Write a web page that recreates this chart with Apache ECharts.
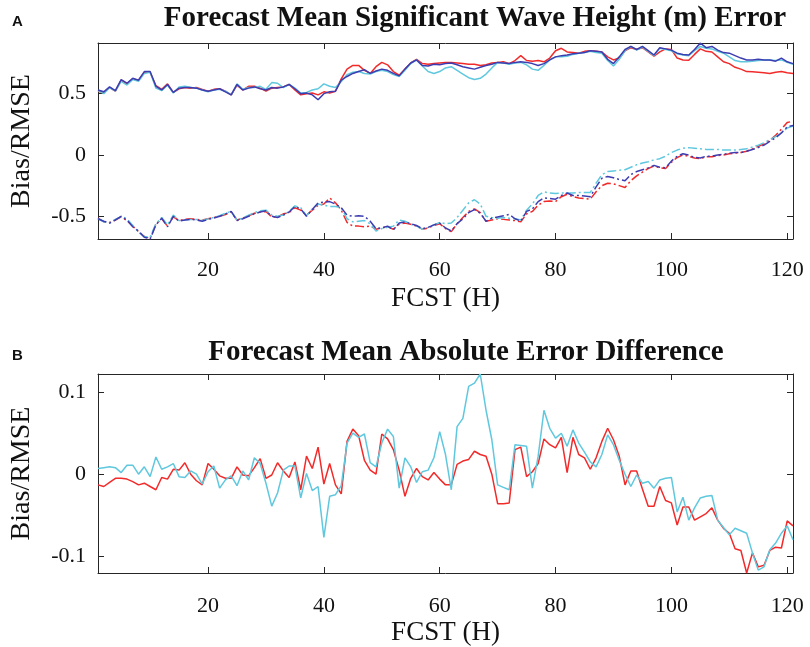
<!DOCTYPE html>
<html><head><meta charset="utf-8">
<script src="https://cdn.jsdelivr.net/npm/echarts@6/dist/echarts.min.js"></script>
<style>html,body{margin:0;padding:0;background:#fff}#c{width:810px;height:647px}</style>
</head><body><div id="c"></div>
<script>
// Forecast hours 1..121
const HOURS = Array.from({length: 121}, (_, i) => i + 1);
const X_TICKS = [20, 40, 60, 80, 100, 120];
const Y_TICKS_A = [-0.5, 0, 0.5];
const Y_TICKS_B = [-0.1, 0, 0.1];

// Panel A: RMSE (solid)
const rmseRed = [0.52,0.51,0.55,0.52,0.61,0.58,0.62,0.61,0.675,0.675,0.565,0.535,0.58,0.51,0.54,0.55,0.545,0.55,0.535,0.52,
0.535,0.54,0.52,0.49,0.57,0.53,0.56,0.56,0.545,0.52,0.545,0.55,0.555,0.575,0.53,0.49,0.50,0.505,0.49,0.515,
0.505,0.52,0.62,0.70,0.73,0.73,0.69,0.665,0.72,0.755,0.735,0.68,0.65,0.70,0.75,0.78,0.745,0.74,0.745,0.75,
0.755,0.755,0.75,0.745,0.74,0.74,0.73,0.735,0.75,0.755,0.76,0.745,0.77,0.81,0.77,0.765,0.77,0.76,0.79,0.85,
0.87,0.84,0.835,0.83,0.845,0.85,0.845,0.84,0.80,0.775,0.79,0.85,0.875,0.86,0.875,0.84,0.805,0.84,0.865,0.86,
0.79,0.775,0.772,0.82,0.865,0.845,0.84,0.80,0.76,0.745,0.715,0.70,0.68,0.678,0.675,0.67,0.665,0.675,0.68,0.67,0.665];
const rmseCyan = [0.525,0.50,0.55,0.52,0.60,0.57,0.615,0.60,0.665,0.675,0.545,0.525,0.57,0.505,0.555,0.56,0.55,0.545,0.53,0.515,
0.53,0.535,0.52,0.49,0.58,0.535,0.55,0.55,0.56,0.535,0.59,0.585,0.55,0.575,0.545,0.505,0.51,0.53,0.54,0.58,
0.56,0.55,0.60,0.655,0.675,0.68,0.665,0.66,0.68,0.69,0.68,0.655,0.64,0.69,0.745,0.775,0.725,0.68,0.665,0.68,
0.71,0.72,0.69,0.66,0.63,0.615,0.625,0.66,0.71,0.755,0.75,0.74,0.75,0.755,0.735,0.70,0.69,0.73,0.775,0.80,
0.80,0.805,0.82,0.83,0.835,0.845,0.835,0.83,0.77,0.725,0.78,0.85,0.885,0.855,0.88,0.845,0.81,0.87,0.86,0.85,
0.825,0.815,0.81,0.85,0.885,0.87,0.865,0.845,0.83,0.80,0.77,0.76,0.76,0.765,0.77,0.775,0.775,0.77,0.775,0.755,0.74];
const rmseBlue = [0.53,0.515,0.555,0.525,0.615,0.585,0.625,0.61,0.68,0.68,0.56,0.53,0.575,0.51,0.545,0.55,0.55,0.545,0.53,0.52,
0.53,0.54,0.515,0.49,0.575,0.53,0.545,0.555,0.54,0.53,0.55,0.545,0.555,0.575,0.54,0.50,0.505,0.49,0.45,0.50,
0.515,0.52,0.61,0.64,0.665,0.68,0.695,0.665,0.685,0.70,0.69,0.665,0.645,0.70,0.75,0.775,0.73,0.725,0.74,0.735,
0.745,0.75,0.735,0.72,0.71,0.70,0.715,0.73,0.74,0.755,0.75,0.745,0.755,0.76,0.755,0.745,0.73,0.745,0.775,0.80,
0.81,0.815,0.825,0.83,0.835,0.85,0.845,0.84,0.78,0.745,0.80,0.86,0.885,0.86,0.885,0.85,0.815,0.875,0.865,0.855,
0.83,0.82,0.815,0.86,0.912,0.875,0.885,0.855,0.835,0.83,0.81,0.79,0.775,0.775,0.78,0.775,0.775,0.765,0.79,0.76,0.745];

// Panel A: Bias (dash-dot)
const biasRed = [-0.515,-0.545,-0.55,-0.53,-0.505,-0.535,-0.58,-0.625,-0.665,-0.68,-0.565,-0.52,-0.58,-0.505,-0.535,-0.525,-0.52,-0.525,-0.53,-0.52,
-0.51,-0.50,-0.485,-0.465,-0.53,-0.515,-0.495,-0.475,-0.465,-0.46,-0.505,-0.505,-0.48,-0.47,-0.43,-0.45,-0.49,-0.45,-0.41,-0.40,
-0.35,-0.39,-0.45,-0.55,-0.58,-0.58,-0.585,-0.58,-0.605,-0.595,-0.585,-0.605,-0.565,-0.555,-0.565,-0.58,-0.605,-0.595,-0.575,-0.56,
-0.60,-0.625,-0.56,-0.51,-0.46,-0.44,-0.47,-0.54,-0.53,-0.52,-0.525,-0.53,-0.535,-0.545,-0.48,-0.46,-0.41,-0.38,-0.375,-0.38,
-0.34,-0.32,-0.34,-0.35,-0.355,-0.36,-0.30,-0.25,-0.23,-0.235,-0.25,-0.265,-0.21,-0.17,-0.14,-0.11,-0.09,-0.105,-0.11,-0.06,
-0.02,0.0,-0.01,-0.025,-0.03,-0.015,-0.015,-0.005,0.0,0.01,0.015,0.02,0.03,0.05,0.07,0.09,0.12,0.16,0.21,0.265,0.275];
const biasCyan = [-0.52,-0.545,-0.555,-0.525,-0.50,-0.52,-0.575,-0.63,-0.665,-0.67,-0.56,-0.51,-0.57,-0.49,-0.535,-0.53,-0.525,-0.525,-0.535,-0.52,
-0.51,-0.495,-0.475,-0.46,-0.53,-0.515,-0.49,-0.47,-0.455,-0.45,-0.49,-0.50,-0.49,-0.46,-0.415,-0.43,-0.495,-0.44,-0.40,-0.41,
-0.42,-0.42,-0.43,-0.52,-0.545,-0.54,-0.535,-0.56,-0.62,-0.60,-0.59,-0.58,-0.53,-0.54,-0.565,-0.58,-0.605,-0.59,-0.57,-0.55,
-0.56,-0.555,-0.51,-0.45,-0.39,-0.365,-0.40,-0.50,-0.51,-0.515,-0.51,-0.515,-0.52,-0.53,-0.45,-0.40,-0.33,-0.30,-0.31,-0.315,
-0.31,-0.31,-0.31,-0.305,-0.305,-0.305,-0.23,-0.16,-0.135,-0.13,-0.125,-0.12,-0.10,-0.08,-0.065,-0.055,-0.04,-0.03,-0.01,0.02,
0.04,0.055,0.06,0.055,0.05,0.045,0.045,0.045,0.04,0.04,0.04,0.045,0.05,0.065,0.08,0.10,0.125,0.15,0.18,0.22,0.235];
const biasBlue = [-0.52,-0.54,-0.555,-0.53,-0.50,-0.53,-0.585,-0.62,-0.67,-0.685,-0.57,-0.515,-0.585,-0.50,-0.54,-0.53,-0.525,-0.53,-0.54,-0.525,
-0.515,-0.50,-0.48,-0.46,-0.535,-0.52,-0.50,-0.48,-0.465,-0.455,-0.50,-0.51,-0.49,-0.465,-0.42,-0.44,-0.50,-0.445,-0.39,-0.385,
-0.38,-0.40,-0.43,-0.49,-0.50,-0.495,-0.50,-0.54,-0.60,-0.595,-0.58,-0.61,-0.555,-0.545,-0.56,-0.575,-0.60,-0.59,-0.57,-0.555,
-0.595,-0.62,-0.56,-0.52,-0.47,-0.445,-0.475,-0.54,-0.515,-0.505,-0.495,-0.485,-0.52,-0.54,-0.46,-0.44,-0.38,-0.35,-0.355,-0.36,
-0.33,-0.31,-0.33,-0.33,-0.335,-0.34,-0.26,-0.19,-0.175,-0.185,-0.20,-0.21,-0.16,-0.135,-0.12,-0.105,-0.085,-0.10,-0.105,-0.05,
-0.01,0.01,0.0,-0.02,-0.025,-0.01,-0.01,0.0,0.005,0.015,0.02,0.02,0.03,0.045,0.06,0.08,0.11,0.14,0.18,0.23,0.24];

// Panel B: mean absolute error difference
const diffRed = [-0.013,-0.015,-0.010,-0.005,-0.005,-0.006,-0.009,-0.013,-0.011,-0.015,-0.019,-0.004,-0.006,0.006,0.005,0.014,0.000,-0.008,-0.013,0.013,
0.006,-0.002,-0.005,-0.005,0.009,-0.001,-0.002,0.008,0.019,-0.005,-0.001,0.014,0.004,-0.004,0.015,-0.019,0.022,0.007,0.033,-0.012,
0.013,-0.013,-0.024,0.040,0.055,0.047,0.017,0.005,0.000,0.049,0.043,0.030,0.005,-0.027,-0.005,0.007,-0.003,-0.007,0.002,-0.006,
-0.013,-0.013,0.012,0.016,0.018,0.028,0.024,0.022,0.000,-0.036,-0.036,-0.035,0.030,0.033,-0.003,0.003,0.013,0.043,0.036,0.032,
0.045,0.002,0.045,0.024,0.020,0.006,0.020,0.040,0.056,0.042,0.022,-0.013,0.004,0.004,-0.018,-0.039,-0.039,-0.015,-0.032,-0.035,
-0.062,-0.040,-0.040,-0.056,-0.052,-0.048,-0.041,-0.056,-0.066,-0.072,-0.091,-0.093,-0.1205,-0.096,-0.113,-0.111,-0.093,-0.089,-0.090,-0.057,-0.063];
const diffCyan = [0.007,0.008,0.009,0.008,0.002,0.011,0.011,0.000,0.009,-0.003,0.021,0.006,0.009,0.013,-0.003,-0.004,0.004,0.000,-0.012,0.003,
0.010,-0.017,-0.007,-0.002,-0.014,0.004,-0.007,0.020,0.013,-0.011,-0.039,-0.023,0.005,0.010,0.010,-0.029,0.001,-0.020,-0.015,-0.077,
-0.027,-0.025,-0.014,0.038,0.050,0.045,0.049,0.014,0.009,0.038,0.055,0.046,-0.017,0.020,0.009,-0.010,0.003,0.005,0.020,0.052,
0.024,-0.019,0.058,0.068,0.107,0.111,0.1222,0.078,0.042,-0.013,-0.016,-0.019,0.036,0.035,0.034,-0.017,0.022,0.078,0.056,0.044,
0.050,0.034,0.054,0.038,0.027,0.015,0.009,0.024,0.048,0.036,0.017,0.000,-0.015,-0.001,-0.011,-0.009,-0.017,-0.007,-0.005,-0.004,
-0.046,-0.028,-0.056,-0.041,-0.029,-0.027,-0.026,-0.056,-0.065,-0.074,-0.066,-0.069,-0.072,-0.096,-0.117,-0.113,-0.092,-0.084,-0.072,-0.063,-0.080];

const RED = '#f22a2a', CYAN = '#5fc8de', BLUE = '#3d3db2';
const AX = '#262626';
const SERIF = '"Liberation Serif","Times New Roman",serif';
const pts = arr => HOURS.map((h, i) => [h, arr[i]]);
const dashDot = [9, 3, 2, 3];

const chart = echarts.init(document.getElementById('c'));

function xAx(grid, pos, show, labelMargin) {
  return {
    type: 'value', gridIndex: grid, position: pos, min: 1, max: 121,
    name: show ? 'FCST (H)' : '', nameLocation: 'middle', nameGap: 46,
    nameTextStyle: {fontFamily: SERIF, fontSize: 27, color: '#111'},
    axisLine: {show: true, onZero: false, lineStyle: {color: AX, width: 1}},
    axisTick: {show: true, inside: true, length: 6, customValues: X_TICKS, lineStyle: {color: AX}},
    axisLabel: {show: show, customValues: X_TICKS, margin: labelMargin || 12, fontFamily: SERIF, fontSize: 22, color: '#111'},
    splitLine: {show: false}
  };
}
function yAx(grid, pos, show, mn, mx, ticks) {
  return {
    type: 'value', gridIndex: grid, position: pos, min: mn, max: mx,
    name: show ? 'Bias/RMSE' : '', nameLocation: 'middle', nameGap: 62, nameRotate: 90,
    nameTextStyle: {fontFamily: SERIF, fontSize: 28, color: '#111'},
    axisLine: {show: true, onZero: false, lineStyle: {color: AX, width: 1}},
    axisTick: {show: true, inside: true, length: 6, customValues: ticks, lineStyle: {color: AX}},
    axisLabel: {show: show, customValues: ticks, margin: 12, fontFamily: SERIF, fontSize: 22, color: '#111',
      formatter: v => String(v)},
    splitLine: {show: false}
  };
}
function line(name, data, color, xi, yi, dashed) {
  return {
    name, type: 'line', xAxisIndex: xi, yAxisIndex: yi, data: pts(data),
    showSymbol: false, symbol: 'none', animation: false, silent: true,
    lineStyle: {color, width: 1.5, type: dashed ? dashDot : 'solid'}
  };
}

chart.setOption({
  animation: false,
  backgroundColor: '#fff',
  grid: [
    {left: 94, right: 17, top: 43, height: 196},
    {left: 94, right: 17, top: 374, height: 199}
  ],
  xAxis: [xAx(0, 'bottom', true, 20), xAx(0, 'top', false), xAx(1, 'bottom', true, 22), xAx(1, 'top', false)],
  yAxis: [
    yAx(0, 'left', true, -0.685, 0.913, Y_TICKS_A), yAx(0, 'right', false, -0.685, 0.913, Y_TICKS_A),
    yAx(1, 'left', true, -0.1205, 0.1222, Y_TICKS_B), yAx(1, 'right', false, -0.1205, 0.1222, Y_TICKS_B)
  ],
  graphic: [
    {type: 'text', x: 12, y: 22, style: {text: 'A', font: 'bold 15px "Liberation Sans",Arial,sans-serif', fill: '#111', verticalAlign: 'middle'}},
    {type: 'text', x: 12, y: 356, style: {text: 'B', font: 'bold 15px "Liberation Sans",Arial,sans-serif', fill: '#111', verticalAlign: 'middle'}},
    {type: 'text', x: 475, y: 19, style: {text: 'Forecast Mean Significant Wave Height (m) Error', font: 'bold 29px ' + SERIF, fill: '#111', align: 'center', verticalAlign: 'middle'}},
    {type: 'text', x: 466, y: 353, style: {text: 'Forecast Mean Absolute Error Difference', font: 'bold 29px ' + SERIF, fill: '#111', align: 'center', verticalAlign: 'middle'}}
  ],
  series: [
    line('RMSE red', rmseRed, RED, 0, 0, false),
    line('RMSE cyan', rmseCyan, CYAN, 0, 0, false),
    line('RMSE blue', rmseBlue, BLUE, 0, 0, false),
    line('Bias red', biasRed, RED, 0, 0, true),
    line('Bias cyan', biasCyan, CYAN, 0, 0, true),
    line('Bias blue', biasBlue, BLUE, 0, 0, true),
    line('Diff red', diffRed, RED, 2, 2, false),
    line('Diff cyan', diffCyan, CYAN, 2, 2, false)
  ]
});
</script></body></html>
